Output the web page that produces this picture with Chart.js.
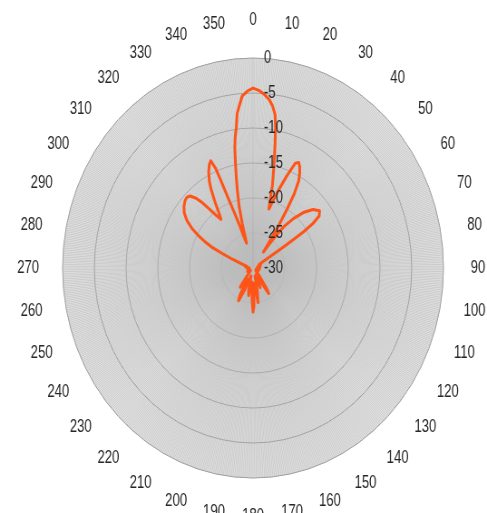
<!DOCTYPE html>
<html>
<head>
<meta charset="utf-8">
<script src="https://cdn.jsdelivr.net/npm/chart.js@4"></script>
<style>
  html, body { margin: 0; padding: 0; background: #fff; overflow: hidden; }
</style>
</head>
<body>
<!-- buffer plus large que l'affichage : le cercle devient une ellipse comme sur la figure -->
<canvas id="diagramme" width="537" height="513" style="display:block;width:487px;height:513px"></canvas>
<script>
// =======================================================================
// DONNÉES : angle en degrés, gain en dB
// =======================================================================
const ANGLES = [
  0, 2, 4, 6, 7.5, 9, 10, 11, 12, 13, 14.5, 15.5, 16.5, 18, 20, 22, 24, 25.5,
  27, 28.5, 30, 31.5, 32.5, 33.5, 34.5, 35.5, 36.5, 38, 39.5, 42, 45, 48.5, 52,
  54.5, 56, 57, 57.5, 58, 58.5, 60, 65, 70, 78, 86, 95, 105, 115, 125, 133,
  138, 141, 144, 146, 148, 151, 155, 158, 161, 165, 168, 171, 173.5, 176,
  178.5, 180, 182, 184, 187, 190, 192.5, 195.5, 199, 203, 206, 208, 210.5,
  213.5, 216.5, 219, 223, 230, 240, 250, 260, 270, 278, 284, 288, 291, 293,
  294.5, 296, 298, 300.5, 303, 306, 309, 312, 314, 316, 318, 319.5, 321, 322.5,
  324, 325.5, 327.5, 329.5, 331, 333, 335, 336.5, 337.5, 338, 338.5, 339.5,
  341, 342.5, 344, 345, 346, 347.5, 348.5, 349.5, 350.5, 351.5, 352.5, 353.5,
  355, 356, 358,
];
const GAIN_DB = [
  -4.3, -4.6, -5.1, -5.8, -6.6, -7.8, -9.6, -11.8, -13.8, -15.6, -17.8, -19.9,
  -21.2, -20, -18, -15.8, -13.6, -13.3, -13.8, -14.6, -15.6, -17.6, -20, -22.5,
  -25, -27.2, -26, -24, -22.3, -20.5, -18.8, -17.4, -16.7, -17.2, -18.6, -20.5,
  -22.5, -24.8, -26.7, -28.3, -29, -28.7, -29.3, -28.9, -29.4, -29, -29.5,
  -29.1, -29.4, -28.6, -28, -26.2, -25.6, -27.8, -29, -28.2, -27, -28.6, -28.8,
  -26.8, -25, -27.5, -27.8, -24.5, -23.7, -25.5, -28, -27.5, -26, -26.8, -28.8,
  -28.4, -26.5, -24.8, -25.5, -28.2, -27.6, -26.6, -28.2, -29.2, -29.5, -29,
  -29.4, -29.1, -29.4, -28.8, -29, -28.2, -26.6, -24.8, -23, -21.8, -20.4,
  -18.8, -17.6, -16.6, -16, -15.6, -15.5, -15.7, -16.6, -17.8, -19.3, -20.6,
  -21.4, -20.6, -18.9, -17, -15.8, -14.6, -13.7, -13.3, -14.6, -16.8, -19,
  -21.4, -23.8, -25.6, -26.3, -23.5, -21, -18.5, -16.8, -14.8, -12.6, -11,
  -9.8, -7.8, -6.4, -5.4, -4.7,
];
const ANGLE_LABELS = [
  0, 10, 20, 30, 40, 50, 60, 70, 80, 90, 100, 110, 120, 130, 140, 150, 160,
  170, 180, 190, 200, 210, 220, 230, 240, 250, 260, 270, 280, 290, 300, 310,
  320, 330, 340, 350,
];
const RADIAL_TICKS = [0, -5, -10, -15, -20, -25, -30];
const PAS = 0.5; // une catégorie tous les 0,5°

// table de catégories du radar (une par pas), gain posé à son angle
const categories = [];
for (let a = 0; a < 360; a += PAS) categories.push(String(a));
const serie = categories.map(() => null);
ANGLES.forEach((a, i) => {
  serie[Math.round(a / PAS)] = GAIN_DB[i];
});

// =======================================================================
// TEXTE (angles + graduations)
// =======================================================================
function texteEtire(ctx, txt, x, y) {
  ctx.save();
  ctx.translate(x, y);
  ctx.scale(1, 1.25);
  ctx.fillText(txt, 0, 0);
  ctx.restore();
}

const etiquettes = {
  id: "etiquettes",
  afterDraw(chart) {
    const { ctx } = chart;
    const r = chart.scales.r;
    ctx.save();
    ctx.fillStyle = "#262626";
    ctx.font = "14.5px 'Liberation Sans', Arial, sans-serif";
    ctx.textBaseline = "middle";

    ctx.textAlign = "center";
    ANGLE_LABELS.forEach((a) => {
      const p = r.getPointPosition(Math.round(a / PAS), r.drawingArea + 38);
      texteEtire(ctx, String(a), p.x, p.y);
    });

    ctx.textAlign = "left";
    RADIAL_TICKS.forEach((v) => {
      const y = r.yCenter - r.getDistanceFromCenterForValue(v);
      texteEtire(ctx, String(v), r.xCenter + 12, y);
    });
    ctx.restore();
  },
};

// =======================================================================
// GRAPHIQUE
// =======================================================================
new Chart(document.getElementById("diagramme"), {
  type: "radar",
  data: {
    labels: categories,
    datasets: [
      {
        data: serie,
        spanGaps: true,
        borderColor: "#ff5417",
        borderWidth: 3,
        borderJoinStyle: "round",
        borderCapStyle: "round",
        fill: false,
        tension: 0,
        pointRadius: 0,
      },
    ],
  },
  options: {
    responsive: false,
    animation: false,
    devicePixelRatio: 1,
    layout: { padding: { left: 69, right: 48, top: 58, bottom: 35 } },
    plugins: { legend: { display: false }, tooltip: { enabled: false } },
    scales: {
      r: {
        min: -30,
        max: 0,
        startAngle: 0,
        backgroundColor: "#e2e2e2",
        ticks: { display: false, stepSize: 5 },
        grid: { circular: true, color: "#959595", lineWidth: 1 },
        angleLines: {
          color: (c) => (c.index === 0 ? "#a8a8a8" : "#bcbcbc"),
          lineWidth: 0.6,
        },
        pointLabels: { display: false },
      },
    },
  },
  plugins: [etiquettes],
});
</script>
</body>
</html>
